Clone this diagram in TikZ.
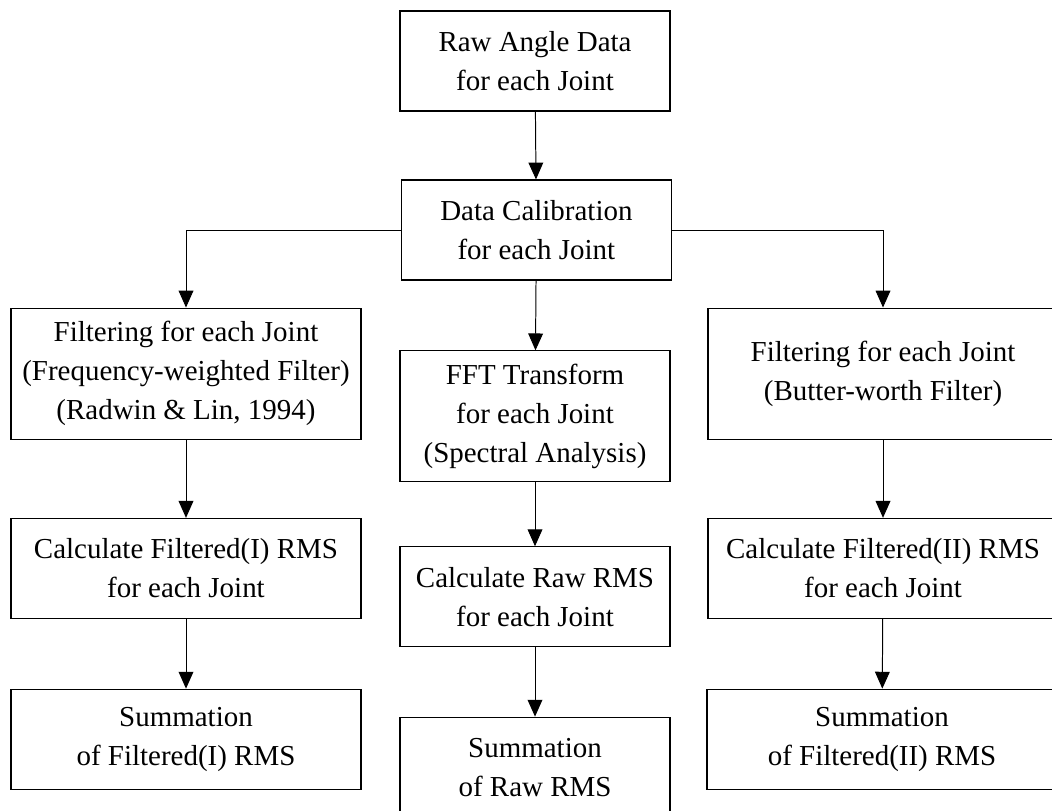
\documentclass[tikz,border=0pt]{standalone}
\usepackage{fontspec}
\setmainfont{Liberation Serif}
\usetikzlibrary{arrows.meta,positioning}

\begin{document}
\begin{tikzpicture}[
  procbox/.style={draw, rectangle, line width=0.8pt, minimum width=6.75cm, minimum height=2.5cm, align=center, font=\fontsize{20.6}{27.7}\selectfont},
  widebox/.style={procbox, minimum width=8.75cm},
  tallbox/.style={minimum height=3.275cm},
  arr/.style={-{Triangle[length=12pt, width=10.5pt]}, line width=0.7pt}
]
  \useasboundingbox (0,0) rectangle (26.3,-20.275);

  \node[procbox] (raw)   at (13.375,-1.525) {Raw Angle Data\\for each Joint};
  \node[procbox] (calib) at (13.41,-5.75)   {Data Calibration\\for each Joint};

  \node[widebox, tallbox] (filtA) at (4.65,-9.34)    {Filtering for each Joint\\(Frequency-weighted Filter)\\(Radwin \& Lin, 1994)};
  \node[procbox, tallbox] (fft)   at (13.375,-10.41) {FFT Transform\\for each Joint\\(Spectral Analysis)};
  \node[widebox, tallbox] (filtB) at (22.075,-9.34)  {Filtering for each Joint\\(Butter-worth Filter)};

  \node[widebox] (calcA)   at (4.65,-14.21)   {Calculate Filtered(I) RMS\\for each Joint};
  \node[procbox] (calcRaw) at (13.375,-14.92) {Calculate Raw RMS\\for each Joint};
  \node[widebox] (calcB)   at (22.075,-14.21) {Calculate Filtered(II) RMS\\for each Joint};

  \node[widebox] (sumA)   at (4.65,-18.48)   {Summation\\of Filtered(I) RMS};
  \node[procbox] (sumRaw) at (13.375,-19.18) {Summation\\of Raw RMS};
  \node[widebox] (sumB)   at (22.05,-18.48)  {Summation\\of Filtered(II) RMS};

  \draw[arr] (raw)   -- (calib);
  \draw[arr] (calib.west) -| (filtA.north);
  \draw[arr] (calib.east) -| (filtB.north);
  \draw[arr] (calib) -- (fft);
  \draw[arr] (filtA) -- (calcA);
  \draw[arr] (fft)   -- (calcRaw);
  \draw[arr] (filtB) -- (calcB);
  \draw[arr] (calcA) -- (sumA);
  \draw[arr] (calcRaw) -- (sumRaw);
  \draw[arr] (calcB) -- (sumB);
\end{tikzpicture}
\end{document}
